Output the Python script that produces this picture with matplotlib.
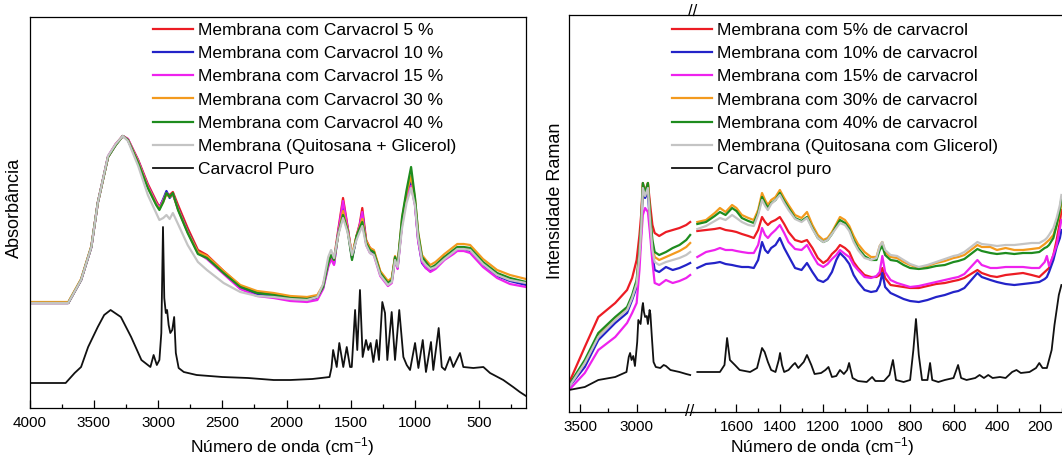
import matplotlib
matplotlib.use('Agg')
import matplotlib.pyplot as plt
from matplotlib.ticker import MultipleLocator, FixedLocator

plt.rcParams['font.family'] = ['Liberation Sans', 'DejaVu Sans']
plt.rcParams['mathtext.fontset'] = 'custom'
plt.rcParams['mathtext.rm'] = 'Liberation Sans'
plt.rcParams['mathtext.it'] = 'Liberation Sans:italic'

# ---------------- data: FTIR (left) ----------------
wn_ir = [4000, 3700, 3600, 3520, 3470, 3390, 3330, 3275, 3235, 3155, 3080, 3015, 2990, 2960, 2935,
         2910, 2885, 2845, 2770, 2690, 2620, 2490, 2360, 2230, 2100, 1970, 1840, 1760, 1715, 1675,
         1653, 1630, 1595, 1560, 1525, 1490, 1455, 1430, 1410, 1380, 1350, 1320, 1270, 1210, 1180,
         1155, 1135, 1100, 1065, 1030, 1000, 975, 945, 915, 880, 840, 770, 700, 670, 620,
         570, 470, 360, 260, 135]
ir_5 = [105, 105, 128, 161, 205, 251, 264, 272, 269, 248, 224, 207, 201, 208, 215,
        213, 216, 203, 180, 158, 153, 137, 122, 116, 113, 111, 110, 112, 122, 144,
        151, 149, 180, 210, 182, 151, 172, 184, 200, 168, 160, 157, 136, 126, 129,
        150, 142, 185, 212, 226, 206, 170, 148, 142, 138, 142, 151, 157, 160, 160,
        158, 144, 133, 128, 124]
ir_10 = [105, 105, 128, 161, 205, 251, 263, 272, 268, 247, 222, 205, 200, 209, 217,
         210, 214, 200, 177, 156, 151, 135, 120, 114, 112, 109, 108, 110, 120, 143,
         150, 144, 177, 203, 180, 150, 170, 182, 195, 166, 158, 155, 134, 124, 127,
         149, 140, 186, 213, 225, 205, 168, 145, 140, 137, 141, 150, 156, 159, 159,
         157, 143, 132, 127, 123]
ir_15 = [105, 105, 128, 161, 205, 252, 264, 272, 269, 247, 222, 205, 200, 208, 215,
         211, 214, 199, 176, 155, 149, 134, 119, 112, 110, 107, 106, 108, 119, 141,
         149, 143, 178, 207, 181, 150, 171, 183, 196, 163, 155, 153, 132, 122, 125,
         148, 139, 184, 211, 222, 203, 167, 146, 140, 136, 139, 148, 154, 157, 157,
         155, 141, 130, 124, 121]
ir_30 = [106, 106, 129, 162, 205, 251, 263, 272, 268, 246, 221, 204, 199, 206, 214,
         211, 214, 199, 176, 156, 152, 137, 123, 117, 115, 112, 111, 113, 123, 146,
         153, 148, 175, 197, 179, 153, 172, 181, 189, 167, 160, 158, 137, 127, 130,
         152, 144, 190, 215, 232, 210, 176, 153, 148, 143, 146, 154, 161, 164, 164,
         163, 149, 138, 133, 129]
ir_40 = [105, 105, 128, 161, 205, 251, 263, 272, 268, 245, 220, 203, 198, 206, 215,
         211, 215, 198, 175, 154, 150, 135, 121, 115, 113, 110, 109, 111, 121, 145,
         153, 148, 175, 193, 178, 148, 172, 180, 186, 165, 158, 156, 135, 125, 128,
         151, 143, 191, 218, 241, 211, 175, 151, 146, 140, 143, 151, 158, 161, 161,
         160, 146, 135, 130, 126]
ir_base = [105, 105, 128, 161, 205, 252, 264, 272, 267, 242, 213, 195, 188, 190, 193,
           189, 195, 184, 163, 146, 138, 125, 116, 112, 111, 109, 108, 111, 124, 151,
           158, 150, 174, 190, 176, 153, 168, 176, 182, 163, 155, 153, 133, 123, 126,
           148, 141, 180, 205, 220, 203, 170, 148, 143, 139, 141, 149, 156, 159, 159,
           158, 144, 133, 128, 125]

wn_ir_cv = [4000, 3720, 3650, 3600, 3545, 3470, 3420, 3370, 3290, 3210, 3130, 3060, 3035, 3010, 2990,
            2975, 2962, 2952, 2940, 2930, 2918, 2905, 2890, 2875, 2862, 2840, 2800, 2700, 2600, 2500,
            2300, 2100, 1970, 1800, 1730, 1665, 1650, 1637, 1609, 1589, 1558, 1531, 1505, 1492, 1466,
            1449, 1428, 1407, 1381, 1363, 1345, 1324, 1298, 1280, 1254, 1233, 1215, 1181, 1155, 1122,
            1090, 1064, 1038, 999, 973, 939, 914, 875, 857, 815, 791, 766, 727, 701, 649,
            623, 545, 467, 415, 312, 235, 183, 135]
ir_cv = [25, 25, 35, 41, 61, 81, 93, 98, 91, 71, 48, 41, 53, 43, 48,
         75, 181, 110, 95, 98, 83, 75, 78, 91, 55, 40, 36, 33, 32, 31,
         30, 28, 28, 29, 30, 31, 40, 58, 41, 65, 41, 61, 41, 41, 98,
         58, 118, 51, 68, 58, 65, 46, 68, 48, 106, 95, 48, 96, 48, 98,
         51, 43, 38, 65, 40, 68, 36, 66, 38, 80, 41, 38, 51, 41, 55,
         41, 40, 41, 35, 28, 21, 16, 12]

# ---------------- data: Raman (right) ----------------
wn_r1 = [3600, 3460, 3340, 3190, 3085, 3040, 3000, 2975, 2960, 2945, 2925, 2900, 2880, 2860, 2840,
         2800, 2740, 2680, 2620, 2560, 2525]
r1_5 = [29, 65, 95, 109, 122, 134, 152, 177, 197, 229, 220, 229, 207, 187, 179, 176, 180, 182, 184, 187, 190]
r1_10 = [25, 45, 72, 89, 99, 112, 125, 154, 180, 222, 214, 220, 184, 157, 142, 140, 145, 142, 144, 147, 149]
r1_15 = [22, 39, 62, 75, 89, 99, 109, 142, 172, 197, 204, 200, 177, 150, 129, 127, 132, 129, 131, 134, 137]
r1_30 = [26, 49, 76, 93, 103, 115, 130, 160, 185, 227, 218, 229, 194, 167, 155, 152, 155, 158, 161, 165, 169]
r1_40 = [27, 52, 79, 95, 105, 117, 132, 162, 187, 229, 219, 229, 197, 172, 160, 157, 160, 164, 167, 172, 177]
r1_base = [25, 49, 75, 92, 102, 114, 128, 157, 182, 224, 216, 224, 190, 162, 150, 147, 150, 152, 154, 157, 160]

wn_r1_cv = [3600, 3460, 3340, 3190, 3090, 3070, 3058, 3045, 3030, 3015, 2995, 2985, 2965, 2950, 2944,
            2935, 2925, 2910, 2900, 2885, 2878, 2865, 2850, 2830, 2790, 2760, 2740, 2700, 2620, 2560, 2525]
r1_cv = [22, 25, 32, 35, 40, 55, 59, 52, 56, 46, 70, 92, 88, 105, 109,
         100, 95, 96, 88, 102, 98, 75, 50, 45, 44, 47, 46, 42, 40, 38, 37]

wn_r2 = [1780, 1740, 1700, 1676, 1650, 1620, 1600, 1575, 1545, 1520, 1500, 1482, 1468, 1455, 1440,
         1420, 1400, 1380, 1360, 1330, 1300, 1275, 1250, 1225, 1200, 1180, 1160, 1140, 1123, 1100,
         1080, 1060, 1040, 1010, 980, 955, 940, 928, 915, 890, 860, 830, 800, 760, 720,
         680, 640, 600, 578, 550, 490, 470, 430, 400, 360, 320, 280, 240, 205, 180,
         170, 160, 140, 125, 110, 103]
r2_5 = [181, 182, 183, 184, 182, 181, 180, 178, 176, 174, 182, 195, 190, 187, 190,
        192, 195, 188, 180, 172, 170, 172, 164, 154, 149, 152, 158, 162, 167, 164,
        160, 150, 144, 137, 135, 135, 137, 144, 134, 127, 126, 125, 124, 124, 126,
        128, 129, 131, 132, 134, 142, 139, 136, 135, 137, 138, 139, 137, 135, 140,
        142, 144, 157, 172, 190, 202]
r2_10 = [144, 148, 149, 150, 148, 147, 146, 145, 145, 144, 152, 170, 162, 159, 164,
         167, 174, 164, 156, 144, 142, 149, 140, 132, 130, 133, 140, 152, 159, 154,
         148, 137, 130, 122, 120, 121, 127, 139, 125, 119, 116, 113, 111, 110, 112,
         115, 117, 120, 121, 124, 139, 135, 132, 130, 128, 127, 128, 129, 130, 133,
         135, 140, 152, 165, 174, 182]
r2_15 = [155, 160, 162, 164, 162, 162, 161, 160, 159, 159, 167, 184, 177, 174, 178,
         182, 187, 179, 170, 163, 162, 167, 157, 148, 145, 148, 153, 157, 162, 158,
         155, 147, 142, 135, 134, 136, 140, 156, 140, 132, 129, 127, 125, 126, 128,
         130, 132, 134, 135, 138, 152, 147, 144, 144, 145, 145, 145, 144, 144, 150,
         156, 146, 157, 167, 184, 192]
r2_30 = [190, 192, 199, 204, 200, 207, 204, 197, 194, 192, 202, 219, 212, 207, 212,
         215, 222, 214, 207, 197, 194, 200, 187, 177, 172, 174, 180, 188, 195, 192,
         186, 176, 168, 160, 155, 155, 166, 170, 160, 155, 154, 150, 147, 144, 146,
         149, 151, 154, 155, 157, 167, 165, 165, 162, 164, 162, 162, 163, 164, 168,
         170, 172, 177, 187, 200, 209]
r2_40 = [188, 190, 196, 200, 197, 204, 201, 194, 191, 189, 199, 215, 209, 204, 209,
         212, 219, 211, 204, 194, 191, 195, 184, 174, 170, 172, 178, 186, 192, 189,
         183, 172, 164, 156, 152, 152, 162, 166, 157, 152, 151, 147, 144, 143, 144,
         146, 147, 150, 151, 153, 163, 161, 159, 158, 159, 158, 159, 159, 160, 164,
         165, 167, 174, 187, 202, 214]
r2_base = [183, 186, 191, 194, 192, 197, 194, 190, 187, 186, 197, 212, 206, 202, 208,
           212, 217, 209, 202, 193, 190, 194, 183, 174, 170, 172, 178, 184, 189, 187,
           181, 170, 162, 154, 152, 154, 166, 170, 162, 157, 156, 152, 148, 145, 147,
           150, 153, 156, 157, 160, 170, 168, 167, 166, 167, 167, 168, 169, 169, 172,
           174, 177, 184, 194, 207, 217]

wn_r2_cv = [1780, 1676, 1655, 1643, 1630, 1607, 1585, 1537, 1505, 1490, 1482, 1470, 1455, 1440, 1420,
            1405, 1399, 1390, 1380, 1360, 1340, 1330, 1315, 1290, 1275, 1255, 1240, 1210, 1190, 1176,
            1160, 1140, 1123, 1105, 1090, 1081, 1065, 1040, 1000, 975, 960, 920, 895, 879, 865,
            830, 800, 785, 773, 760, 745, 720, 708, 698, 670, 640, 600, 579, 565, 540,
            500, 480, 460, 440, 420, 386, 360, 330, 310, 290, 250, 220, 205, 190, 170,
            148, 135, 125, 115, 103]
r2_cv = [40, 40, 47, 74, 52, 47, 42, 40, 44, 57, 64, 60, 50, 42, 40,
         52, 59, 47, 40, 42, 47, 49, 44, 50, 57, 47, 38, 39, 42, 45,
         35, 36, 42, 38, 42, 49, 34, 31, 30, 35, 31, 31, 37, 52, 32,
         30, 32, 62, 93, 57, 32, 32, 49, 32, 30, 32, 34, 47, 34, 32,
         34, 37, 34, 37, 34, 35, 34, 40, 42, 39, 40, 44, 49, 44, 44,
         62, 87, 102, 117, 127]

ftir_labels = ['Membrana com Carvacrol 5 %', 'Membrana com Carvacrol 10 %',
               'Membrana com Carvacrol 15 %', 'Membrana com Carvacrol 30 %',
               'Membrana com Carvacrol 40 %', 'Membrana (Quitosana + Glicerol)', 'Carvacrol Puro']
raman_labels = ['Membrana com 5% de carvacrol', 'Membrana com 10% de carvacrol',
                'Membrana com 15% de carvacrol', 'Membrana com 30% de carvacrol',
                'Membrana com 40% de carvacrol', 'Membrana (Quitosana com Glicerol)', 'Carvacrol puro']
colors = ['#ec1c24', '#2323c8', '#ee22ee', '#f39a1e', '#1e8c1e', '#c4c4c4', '#111111']

# ---------------- figure ----------------
W, H = 1062, 457
fig = plt.figure(figsize=(W / 100, H / 100), dpi=100)


def box(x0, y0, x1, y1):
    return [x0 / W, 1 - y1 / H, (x1 - x0) / W, (y1 - y0) / H]


FS_TICK = 11
FS_LAB = 12.5
LW = 1.6
LEG = dict(loc='upper left', frameon=False, borderpad=0, borderaxespad=0, fontsize=FS_LAB,
           handlelength=2.3, handletextpad=0.29, labelspacing=0.46)

# ---- left FTIR ----
ax1 = fig.add_axes(box(29.7, 17, 526, 408))
ir_series = [ir_5, ir_10, ir_15, ir_30, ir_40, ir_base]
for vals, c, lab in zip(ir_series, colors[:6], ftir_labels[:6]):
    ax1.plot(wn_ir, vals, color=c, lw=LW, label=lab)
ax1.plot(wn_ir_cv, ir_cv, color=colors[6], lw=1.3, label=ftir_labels[6])
ax1.set_xlim(4000, 135)
ax1.set_ylim(0, 391)
ax1.xaxis.set_major_locator(MultipleLocator(500))
ax1.xaxis.set_minor_locator(MultipleLocator(250))
ax1.tick_params(axis='x', which='major', direction='in', length=5.5, width=0.9, labelsize=FS_TICK, pad=6)
ax1.tick_params(axis='x', which='minor', direction='in', length=3, width=0.9)
ax1.tick_params(axis='y', left=False, labelleft=False)
for s in ax1.spines.values():
    s.set_linewidth(0.9)
ax1.legend(bbox_to_anchor=(153 / W, 1 - 23 / H), bbox_transform=fig.transFigure, **LEG)
fig.text(14 / W, 1 - 208 / H, 'Absorbância', rotation=90, ha='center', va='center', fontsize=13)
fig.text(282 / W, 1 - 447 / H, r'Número de onda (cm$^{\mathregular{-1}}$)', ha='center', va='center', fontsize=FS_LAB)

# ---- right Raman (broken axis) ----
xb = 693
axA = fig.add_axes(box(569, 15, xb, 412))
axB = fig.add_axes(box(xb, 15, 1064, 412))
r1_series = [r1_5, r1_10, r1_15, r1_30, r1_40, r1_base]
r2_series = [r2_5, r2_10, r2_15, r2_30, r2_40, r2_base]
for vals, c in zip(r1_series, colors[:6]):
    axA.plot(wn_r1, vals, color=c, lw=LW)
axA.plot(wn_r1_cv, r1_cv, color=colors[6], lw=1.3)
for vals, c, lab in zip(r2_series, colors[:6], raman_labels[:6]):
    axB.plot(wn_r2, vals, color=c, lw=LW, label=lab)
axB.plot(wn_r2_cv, r2_cv, color=colors[6], lw=1.3, label=raman_labels[6])

axA.set_xlim(3600, 2500)
axB.set_xlim(1800, 1800 - (1064 - xb) / 0.2171)
for a in (axA, axB):
    a.set_ylim(0, 397)
    a.tick_params(axis='y', left=False, labelleft=False, right=False)
    a.tick_params(axis='x', which='major', direction='in', length=5.5, width=0.9, labelsize=FS_TICK, pad=6)
    a.tick_params(axis='x', which='minor', direction='in', length=3, width=0.9)
    for s in a.spines.values():
        s.set_linewidth(0.9)
axA.spines['right'].set_visible(False)
axB.spines['left'].set_visible(False)
axB.patch.set_alpha(0)
axA.xaxis.set_major_locator(FixedLocator([3500, 3000]))
axA.xaxis.set_minor_locator(FixedLocator([3250, 2750]))
axB.xaxis.set_major_locator(FixedLocator([1600, 1400, 1200, 1000, 800, 600, 400, 200]))
axB.xaxis.set_minor_locator(FixedLocator([1700, 1500, 1300, 1100, 900, 700, 500, 300, 100]))

axB.legend(bbox_to_anchor=(672 / W, 1 - 23 / H), bbox_transform=fig.transFigure, **LEG)
fig.text(555 / W, 1 - 201 / H, 'Intensidade Raman', rotation=90, ha='center', va='center', fontsize=13)
fig.text(822 / W, 1 - 447 / H, r'Número de onda (cm$^{\mathregular{-1}}$)', ha='center', va='center', fontsize=FS_LAB)
fig.text(xb / W, 1 - 11 / H, '//', ha='center', va='center', fontsize=12)
fig.text((xb - 3) / W, 1 - 412 / H, '//', ha='center', va='center', fontsize=12)

fig.savefig('out.png', dpi=100)
